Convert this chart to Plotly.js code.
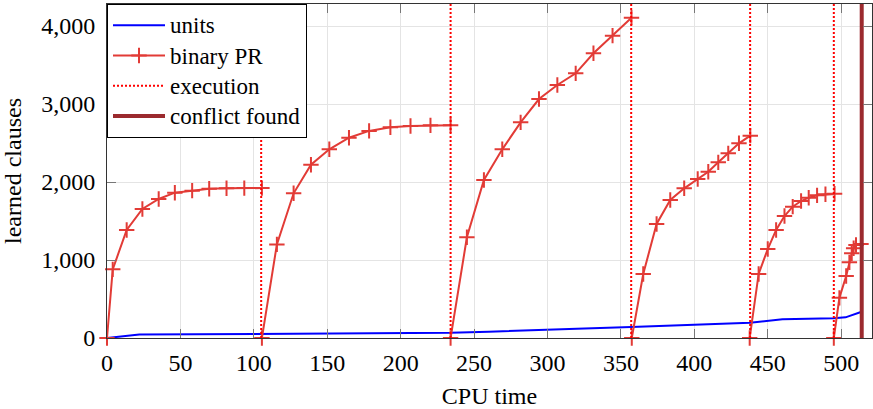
<!DOCTYPE html>
<html>
<head>
<meta charset="utf-8">
<script src="https://cdn.plot.ly/plotly-3.0.1.min.js"></script>
<style>html,body{margin:0;padding:0;background:#fff;}#chart{width:873px;height:409px;}</style>
</head>
<body>
<div id="chart"></div>
<script>
// CPU time of unit count samples
const unitsTime = [0, 22, 60, 100, 125, 170, 234, 260, 300, 320, 357, 400, 438, 460, 495, 503, 513];
const unitsCount = [0, 45, 48, 50, 55, 62, 66, 80, 110, 118, 140, 170, 196, 240, 252, 265, 330];

// binary PR learned clauses (segments separated by null)
const prTime = [
  0, 3.9, 13.4, 24.1, 35.2, 46.2, 58, 69.6, 81.4, 93.5, 105.5, null,
  105.5, 115.7, 127.1, 138.9, 151.4, 164.8, 178.5, 193, 206.7, 220.3, 234, null,
  234, 245.1, 256.7, 269.2, 281.7, 294.2, 306.7, 319.2, 331.3, 344.3, 357.2, null,
  357.4, 365.2, 374.3, 383.6, 393.1, 402.3, 409.5, 416.3, 423.1, 430.4, 438.1, null,
  437.7, 443.8, 450, 455.7, 461.4, 467, 472.7, 477.9, 483.6, 489.3, 495.5, null,
  495, 498.8, 503.4, 505.6, 507.2, 508.5, 510.1, 513.5
];
const prClauses = [
  0, 880, 1385, 1654, 1782, 1863, 1889, 1914, 1919, 1922, 1922, null,
  0, 1200, 1855, 2222, 2419, 2568, 2655, 2701, 2718, 2726, 2728, null,
  0, 1291, 2026, 2419, 2765, 3064, 3244, 3393, 3650, 3876, 4107, null,
  0, 821, 1462, 1769, 1919, 2038, 2132, 2252, 2367, 2496, 2594, null,
  0, 821, 1141, 1385, 1564, 1684, 1756, 1799, 1829, 1842, 1850, null,
  0, 515, 795, 970, 1085, 1150, 1192, 1205
];

const executionTimes = [105, 234, 357, 438, 495];
const conflictTimes = [514];

const xTicks = [0, 50, 100, 150, 200, 250, 300, 350, 400, 450, 500];
const yTicks = [0, 1000, 2000, 3000, 4000];

const seriesNames = ['units', 'binary PR', 'execution', 'conflict found'];

const xMax = 521;
const yMax = 4282;

function verticals(times) {
  const xs = [], ys = [];
  times.forEach(t => { xs.push(t, t, null); ys.push(0, yMax, null); });
  return {xs, ys};
}
const ex = verticals(executionTimes);
const cf = verticals(conflictTimes);

const FONT = 'Liberation Serif, Times New Roman, serif';
const legendName = s => '<span style="font-size:23px">' + s + '</span>';

const traces = [
  {x: unitsTime, y: unitsCount, name: legendName(seriesNames[0]), mode: 'lines', type: 'scatter',
   line: {color: '#0000ff', width: 2}},
  {x: prTime, y: prClauses, name: legendName(seriesNames[1]), mode: 'lines+markers', type: 'scatter',
   line: {color: '#e23b36', width: 2}, connectgaps: false, cliponaxis: false,
   marker: {symbol: 'cross-thin-open', size: 11, color: '#e23b36', line: {color: '#e23b36', width: 2}}},
  {x: ex.xs, y: ex.ys, name: legendName(seriesNames[2]), mode: 'lines', type: 'scatter',
   line: {color: '#ff0000', width: 2, dash: '2px,2px'}},
  {x: cf.xs, y: cf.ys, name: legendName(seriesNames[3]), mode: 'lines', type: 'scatter',
   line: {color: '#9b2a2e', width: 4}}
];

const layout = {
  width: 873, height: 409,
  margin: {l: 107, r: 1, t: 4, b: 71},
  paper_bgcolor: '#fff', plot_bgcolor: '#fff',
  font: {family: FONT, size: 24, color: '#000'},
  showlegend: true,
  legend: {x: 0, y: 1, xanchor: 'left', yanchor: 'top', bgcolor: '#fff',
           bordercolor: '#000', borderwidth: 1, font: {family: FONT, size: 21, color: '#000'},
           tracegroupgap: 0, itemwidth: 52},
  xaxis: {range: [0, xMax], tickvals: xTicks, ticktext: xTicks.map(String),
          tickfont: {family: FONT, size: 24, color: '#000'},
          showgrid: true, gridcolor: '#e4e4e4', gridwidth: 1,
          showline: true, linecolor: '#333', linewidth: 1, mirror: 'ticks',
          ticks: 'inside', ticklen: 9, tickcolor: '#777', tickwidth: 1,
          zeroline: false, ticklabelstandoff: 3,
          title: {text: 'CPU time', font: {family: FONT, size: 24, color: '#000'}, standoff: 18}},
  yaxis: {range: [0, yMax], tickvals: yTicks, ticktext: yTicks.map(v => v.toLocaleString('en-US')),
          tickfont: {family: FONT, size: 24, color: '#000'},
          showgrid: true, gridcolor: '#e4e4e4', gridwidth: 1,
          showline: true, linecolor: '#333', linewidth: 1, mirror: 'ticks',
          ticks: 'inside', ticklen: 9, tickcolor: '#777', tickwidth: 1,
          zeroline: false, ticklabelstandoff: 6,
          title: {text: 'learned clauses', font: {family: FONT, size: 24, color: '#000'}, standoff: 14}}
};

Plotly.newPlot('chart', traces, layout, {displayModeBar: false, staticPlot: true});
</script>
</body>
</html>
